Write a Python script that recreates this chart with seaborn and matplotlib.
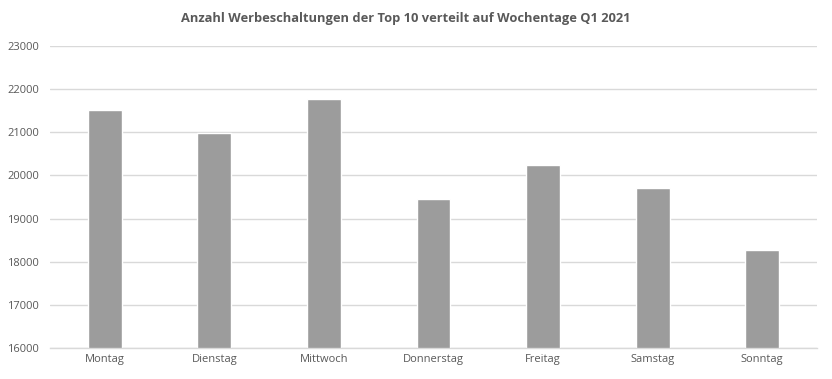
import matplotlib.pyplot as plt
import seaborn as sns
import pandas as pd

# Daten
tage = ['Montag', 'Dienstag', 'Mittwoch', 'Donnerstag', 'Freitag', 'Samstag', 'Sonntag']
anzahl = [21515, 20990, 21770, 19446, 20235, 19700, 18280]

sns.set_theme(style="whitegrid")
plt.rcParams['font.family'] = ['Open Sans', 'DejaVu Sans']

df = pd.DataFrame({'tag': tage, 'anzahl': anzahl})

fig = plt.figure(figsize=(8.32, 3.79), dpi=100)
ax = fig.add_axes([0.0601, 0.081, 0.9219, 0.798])

sns.barplot(data=df, x='tag', y='anzahl', color='#9c9c9c', saturation=1,
            width=0.31, ax=ax)

ax.set_ylim(16000, 23000)
ax.set_yticks(range(16000, 23001, 1000))
ax.set_xlim(-0.5, len(tage) - 0.5)
ax.set_xlabel('')
ax.set_ylabel('')

ax.grid(axis='y', color='#d9d9d9', linewidth=1)
ax.grid(axis='x', visible=False)
ax.set_axisbelow(True)
for side in ['top', 'right', 'left']:
    ax.spines[side].set_visible(False)
ax.spines['bottom'].set_color('#d9d9d9')
ax.spines['bottom'].set_linewidth(1)

ax.tick_params(axis='both', length=0, labelsize=8, colors='#595959', pad=4)
ax.tick_params(axis='y', pad=8)

# Titel leicht links vom Zentrum, wie im Original
fig.text(0.488, 0.95, 'Anzahl Werbeschaltungen der Top 10 verteilt auf Wochentage Q1 2021',
         ha='center', va='center', fontsize=9.3, fontweight='bold', color='#595959')

fig.savefig('out.png', dpi=100)
